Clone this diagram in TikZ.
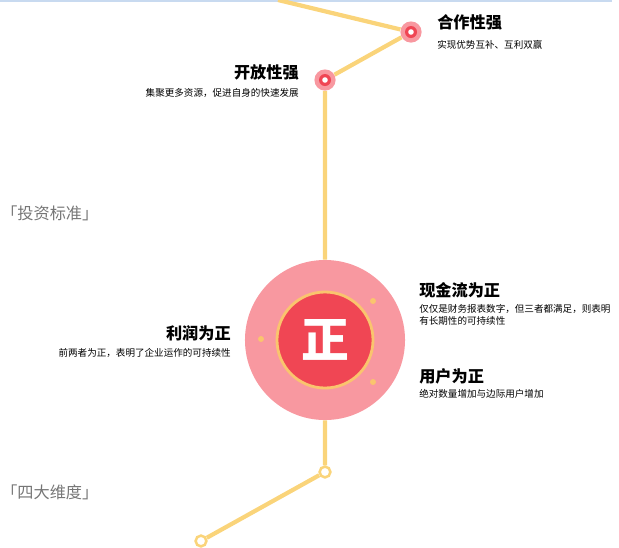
\documentclass[tikz,border=0pt]{standalone}
\usepackage{fontspec}
\setmainfont{Noto Sans CJK SC}

\definecolor{trackyellow}{RGB}{250,212,122}
\definecolor{discpink}{RGB}{248,152,160}
\definecolor{discred}{RGB}{240,70,84}
\definecolor{ringgold}{RGB}{250,196,110}
\definecolor{labelgray}{RGB}{118,118,118}
\definecolor{edgeblue}{RGB}{200,218,240}

\begin{document}
\begin{tikzpicture}[x=0.025cm,y=-0.025cm,
    track/.style={line width=3pt,trackyellow},
    hotspot/.style={circle,fill=discpink,minimum size=0.53cm,inner sep=0pt,
      path picture={
        \fill[discred] (path picture bounding box.center) circle (0.15cm);
        \fill[white] (path picture bounding box.center) circle (0.07cm);}},
    waypoint/.style={circle,draw=trackyellow,line width=1.8pt,fill=white,minimum size=0.27cm,inner sep=0pt},
    heading/.style={inner sep=0pt,font=\fontsize{11.5}{13}\selectfont\bfseries},
    remark/.style={inner sep=0pt,align=left,font=\fontsize{6.8}{8.5}\selectfont},
    category/.style={inner sep=0pt,text=labelgray,font=\fontsize{11.5}{13}\selectfont}]
        % \draw[help lines,step=50] (0,0) grid (619,547);
        \useasboundingbox (0,0) rectangle (619,547);

        % edge of the page
        \draw[edgeblue,line width=1.5pt] (0,1) -- (612,1);

        \node[hotspot] (coop) at (411,32) {};
        \node[hotspot] (open) at (325,80) {};
        \node[circle,fill=discpink,minimum size=4cm,inner sep=0pt] (disc) at (325,340) {};
        \node[circle,fill=discred,draw=ringgold,line width=2pt,minimum size=2.4cm,inner sep=0pt,
          text=white,font=\fontsize{34}{34}\selectfont\bfseries] (core) at (325,340) {正};
        \node[waypoint] (low) at (325,472) {};
        \node[waypoint] (end) at (201,541) {};
        \coordinate (entry) at (278,0);

        % sparks on the disc
        \foreach \p in {(261,339),(373,301),(373,382)}
          \fill[ringgold] \p circle (0.075cm);

        % the track
        \draw[track] (entry) -- (coop) -- (open) -- (disc) -- (low) -- (end);

        % labels
        \node[heading,anchor=west] (coophead) at (437,22) {合作性强};
        \node[remark,anchor=west] (coopnote) at (437,45) {实现优势互补、互利双赢};
        \node[heading,anchor=east] (openhead) at (299,72) {开放性强};
        \node[remark,anchor=east] (opennote) at (299,93) {集聚更多资源，促进自身的快速发展};
        \node[heading,anchor=west] (cashhead) at (419,290) {现金流为正};
        \node[remark,anchor=west] (cashnote) at (419,315) {仅仅是财务报表数字，但三者都满足，则表明\\有长期性的可持续性};
        \node[heading,anchor=west] (userhead) at (419,376) {用户为正};
        \node[remark,anchor=west] (usernote) at (419,394) {绝对数量增加与边际用户增加};
        \node[heading,anchor=east] (profhead) at (231,333) {利润为正};
        \node[remark,anchor=east] (profnote) at (231,353) {前两者为正，表明了企业运作的可持续性};

        \node[category,anchor=west] (standard) at (1,213) {「投资标准」};
        \node[category,anchor=west] (dimension) at (1,492) {「四大维度」};

      \end{tikzpicture}
\end{document}
